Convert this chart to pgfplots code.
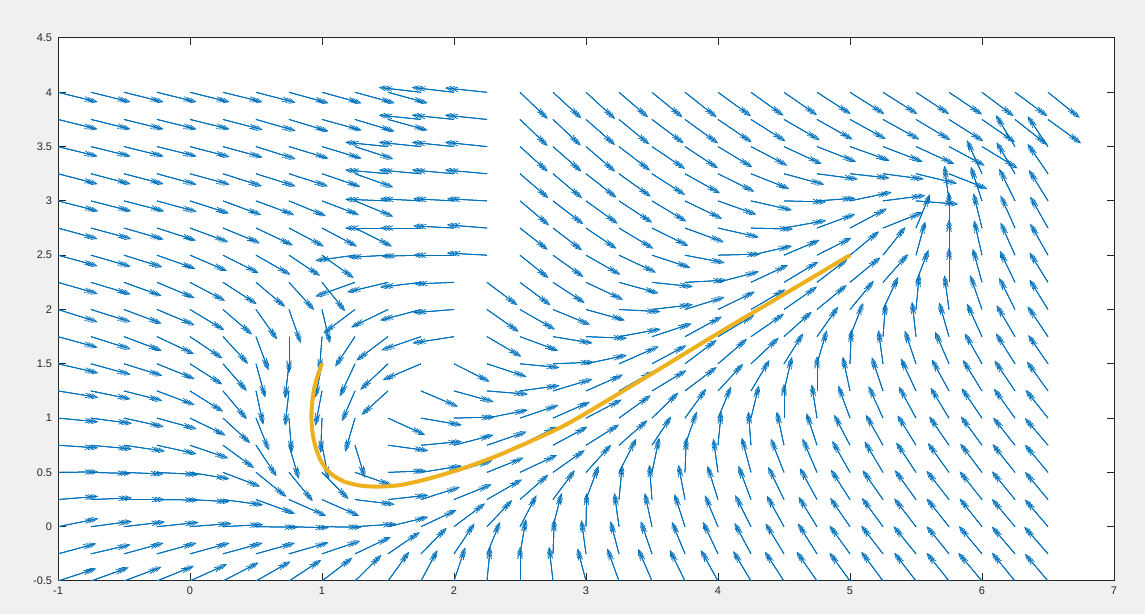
\documentclass[border=0pt]{standalone}
\usepackage{pgfplots}
\pgfplotsset{compat=1.18}
\usepackage{pgfplotstable}
\usepackage{fontspec}
\setmainfont{Liberation Sans}
\usetikzlibrary{arrows.meta}
\definecolor{mblue}{RGB}{0,114,189}
\definecolor{morange}{RGB}{237,177,32}
\definecolor{bgcol}{RGB}{240,240,240}
\definecolor{axcol}{RGB}{38,38,38}

\pgfplotstableread{
x y u v
-1 4 .30 -.09
-.75 4 .30 -.09
-.5 4 .30 -.09
-.25 4 .30 -.09
0 4 .30 -.09
.25 4 .30 -.09
.5 4 .30 -.095
.75 4 .30 -.10
1 4 .30 -.10
1.25 4 .30 -.10
1.5 4 .30 -.10
1.75 4 -.32 .045
2 4 -.32 .045
2.25 4 -.32 .04
2.5 4 .21 -.245
2.75 4 .215 -.24
3 4 .22 -.245
3.25 4 .22 -.23
3.5 4 .23 -.23
3.75 4 .24 -.23
4 4 .25 -.22
4.25 4 .245 -.215
4.5 4 .25 -.21
4.75 4 .255 -.20
5 4 .26 -.20
5.25 4 .26 -.20
5.5 4 .25 -.20
5.75 4 .25 -.205
6 4 .24 -.22
6.25 4 .245 -.22
6.5 4 .24 -.235
-1 3.75 .30 -.09
-.75 3.75 .30 -.09
-.5 3.75 .30 -.09
-.25 3.75 .30 -.09
0 3.75 .30 -.09
.25 3.75 .30 -.095
.5 3.75 .30 -.105
.75 3.75 .30 -.11
1 3.75 .30 -.10
1.25 3.75 .30 -.11
1.5 3.75 .30 -.10
1.75 3.75 -.32 .04
2 3.75 -.32 .04
2.25 3.75 -.32 .04
2.5 3.75 .21 -.245
2.75 3.75 .21 -.24
3 3.75 .22 -.235
3.25 3.75 .23 -.23
3.5 3.75 .24 -.22
3.75 3.75 .25 -.22
4 3.75 .255 -.21
4.25 3.75 .26 -.20
4.5 3.75 .27 -.19
4.75 3.75 .27 -.185
5 3.75 .27 -.18
5.25 3.75 .275 -.185
5.5 3.75 .26 -.19
5.75 3.75 .26 -.20
6 3.75 .25 -.21
6.25 3.75 .245 -.235
6.5 3.75 .25 -.22
-1 3.5 .30 -.09
-.75 3.5 .30 -.09
-.5 3.5 .30 -.09
-.25 3.5 .30 -.09
0 3.5 .30 -.095
.25 3.5 .30 -.10
.5 3.5 .30 -.115
.75 3.5 .30 -.11
1 3.5 .30 -.11
1.25 3.5 .29 -.115
1.5 3.5 -.325 .04
1.75 3.5 -.32 .04
2 3.5 -.32 .04
2.25 3.5 -.32 .04
2.5 3.5 .21 -.23
2.75 3.5 .215 -.23
3 3.5 .22 -.23
3.25 3.5 .235 -.22
3.5 3.5 .25 -.205
3.75 3.5 .25 -.20
4 3.5 .26 -.19
4.25 3.5 .275 -.175
4.5 3.5 .285 -.16
4.75 3.5 .295 -.14
5 3.5 .30 -.13
5.25 3.5 .30 -.14
5.5 3.5 .29 -.16
5.75 3.5 .27 -.175
6 3.5 .27 -.20
6.25 3.5 -.145 .29
6.5 3.5 -.155 .28
-1 3.25 .30 -.095
-.75 3.25 .30 -.095
-.5 3.25 .30 -.095
-.25 3.25 .30 -.10
0 3.25 .30 -.10
.25 3.25 .295 -.115
.5 3.25 .30 -.115
.75 3.25 .295 -.115
1 3.25 .29 -.12
1.25 3.25 .29 -.125
1.5 3.25 -.325 .035
1.75 3.25 -.32 .035
2 3.25 -.32 .035
2.25 3.25 -.32 .035
2.5 3.25 .215 -.225
2.75 3.25 .22 -.225
3 3.25 .23 -.22
3.25 3.25 .24 -.21
3.5 3.25 .25 -.195
3.75 3.25 .265 -.18
4 3.25 .275 -.165
4.25 3.25 .29 -.14
4.5 3.25 .305 -.10
4.75 3.25 .31 -.05
5 3.25 .30 -.04
5.25 3.25 .31 -.05
5.5 3.25 .31 -.09
5.75 3.25 .29 -.14
6 3.25 -.115 .31
6.25 3.25 -.14 .29
6.5 3.25 -.155 .275
-1 3 .305 -.095
-.75 3 .305 -.095
-.5 3 .305 -.095
-.25 3 .30 -.10
0 3 .295 -.115
.25 3 .29 -.13
.5 3 .29 -.13
.75 3 .28 -.14
1 3 .28 -.13
1.25 3 .29 -.145
1.5 3 -.325 .015
1.75 3 -.31 .02
2 3 -.31 .02
2.25 3 -.305 .02
2.5 3 .22 -.225
2.75 3 .23 -.215
3 3 .24 -.21
3.25 3 .25 -.20
3.5 3 .26 -.19
3.75 3 .28 -.165
4 3 .29 -.125
4.25 3 .31 -.085
4.5 3 .32 -.01
4.75 3 .29 .025
5 3 .315 .08
5.25 3 .32 .05
5.5 3 .32 -.03
5.75 3 -.035 .325
6 3 -.085 .315
6.25 3 -.12 .295
6.5 3 -.145 .285
-1 2.75 .30 -.10
-.75 2.75 .305 -.10
-.5 2.75 .30 -.105
-.25 2.75 .295 -.115
0 2.75 .29 -.13
.25 2.75 .28 -.14
.5 2.75 .28 -.16
.75 2.75 .265 -.17
1 2.75 .265 -.17
1.25 2.75 .28 -.17
1.5 2.75 -.325 0
1.75 2.75 -.31 0
2 2.75 -.31 .02
2.25 2.75 -.305 .03
2.5 2.75 .21 -.20
2.75 2.75 .22 -.205
3 2.75 .23 -.19
3.25 2.75 .26 -.19
3.5 2.75 .275 -.165
3.75 2.75 .295 -.13
4 2.75 .31 -.085
4.25 2.75 .32 -.01
4.5 2.75 .32 .07
4.75 2.75 .29 .13
5 2.75 .28 .18
5.25 2.75 .30 .145
5.5 2.75 .105 .31
5.75 2.75 0 .33
6 2.75 -.065 .32
6.25 2.75 -.11 .30
6.5 2.75 -.135 .29
-1 2.5 .30 -.10
-.75 2.5 .30 -.105
-.5 2.5 .29 -.11
-.25 2.5 .29 -.125
0 2.5 .28 -.145
.25 2.5 .27 -.165
.5 2.5 .26 -.18
.75 2.5 .235 -.19
1 2.5 .24 -.21
1.25 2.5 -.30 -.05
1.5 2.5 -.30 -.02
1.75 2.5 -.30 -.01
2 2.5 -.31 0
2.25 2.5 -.305 .02
2.5 2.5 .215 -.21
2.75 2.5 .23 -.20
3 2.5 .26 -.18
3.25 2.5 .28 -.16
3.5 2.5 .29 -.115
3.75 2.5 .30 -.07
4 2.5 .32 .01
4.25 2.5 .31 .085
4.5 2.5 .27 .14
4.75 2.5 .26 .16
5 2.5 .22 .22
5.25 2.5 .17 .26
5.5 2.5 .07 .31
5.75 2.5 0 .33
6 2.5 -.06 .32
6.25 2.5 -.11 .30
6.5 2.5 -.135 .29
-1 2.25 .30 -.105
-.75 2.25 .30 -.11
-.5 2.25 .285 -.125
-.25 2.25 .285 -.145
0 2.25 .265 -.17
.25 2.25 .255 -.20
.5 2.25 .22 -.225
.75 2.25 .19 -.255
1 2.25 .175 -.265
1.25 2.25 -.30 -.13
1.5 2.25 -.31 -.09
1.75 2.25 -.31 -.045
2 2.25 -.30 -.015
2.25 2.25 .23 -.21
2.5 2.25 .23 -.21
2.75 2.25 .24 -.19
3 2.25 .28 -.16
3.25 2.25 .30 -.10
3.5 2.25 .31 -.04
3.75 2.25 .315 .02
4 2.25 .31 .10
4.25 2.25 .28 .16
4.5 2.25 .26 .19
4.75 2.25 .23 .215
5 2.25 .23 .23
5.25 2.25 .19 .26
5.5 2.25 .095 .30
5.75 2.25 0 .32
6 2.25 -.07 .31
6.25 2.25 -.115 .29
6.5 2.25 -.14 .275
-1 2 .30 -.115
-.75 2 .30 -.115
-.5 2 .285 -.13
-.25 2 .285 -.145
0 2 .26 -.19
.25 2 .22 -.23
.5 2 .16 -.275
.75 2 .09 -.31
1 2 .06 -.31
1.25 2 -.24 -.22
1.5 2 -.28 -.165
1.75 2 -.31 -.10
2 2 -.31 -.03
2.25 2 .24 -.205
2.5 2 .265 -.185
2.75 2 .28 -.14
3 2 .295 -.10
3.25 2 .315 -.02
3.5 2 .31 .045
3.75 2 .30 .115
4 2 .28 .165
4.25 2 .26 .185
4.5 2 .25 .21
4.75 2 .225 .225
5 2 .18 .265
5.25 2 .115 .30
5.5 2 .025 .325
5.75 2 -.035 .315
6 2 -.09 .315
6.25 2 -.12 .29
6.5 2 -.14 .275
-1 1.75 .30 -.10
-.75 1.75 .30 -.115
-.5 1.75 .285 -.13
-.25 1.75 .28 -.16
0 1.75 .245 -.20
.25 1.75 .19 -.25
.5 1.75 .095 -.31
.75 1.75 0 -.335
1 1.75 -.02 -.32
1.25 1.75 -.15 -.275
1.5 1.75 -.24 -.22
1.75 1.75 -.30 -.125
2 1.75 -.315 -.06
2.25 1.75 .26 -.185
2.5 1.75 .29 -.13
2.75 1.75 .30 -.06
3 1.75 .31 -.015
3.25 1.75 .315 .07
3.5 1.75 .30 .12
3.75 1.75 .28 .185
4 1.75 .275 .20
4.25 1.75 .25 .21
4.5 1.75 .21 .23
4.75 1.75 .16 .275
5 1.75 .10 .31
5.25 1.75 .02 .31
5.5 1.75 -.03 .32
5.75 1.75 -.075 .315
6 1.75 -.115 .305
6.25 1.75 -.14 .29
6.5 1.75 -.155 .28
-1 1.5 .305 -.085
-.75 1.5 .30 -.10
-.5 1.5 .29 -.11
-.25 1.5 .285 -.14
0 1.5 .245 -.19
.25 1.5 .18 -.25
.5 1.5 .07 -.31
.75 1.5 -.03 -.32
1 1.5 -.05 -.31
1.25 1.5 -.115 -.30
1.5 1.5 -.21 -.24
1.75 1.5 -.29 -.15
2 1.5 .27 -.165
2.25 1.5 .30 -.12
2.5 1.5 .30 -.035
2.75 1.5 .31 .015
3 1.5 .31 .08
3.25 1.5 .30 .16
3.5 1.5 .26 .17
3.75 1.5 .24 .22
4 1.5 .22 .23
4.25 1.5 .21 .24
4.5 1.5 .145 .28
4.75 1.5 .075 .31
5 1.5 .01 .315
5.25 1.5 -.035 .31
5.5 1.5 -.085 .305
5.75 1.5 -.105 .295
6 1.5 -.13 .28
6.25 1.5 -.145 .28
6.5 1.5 -.15 .265
-1 1.25 .305 -.06
-.75 1.25 .30 -.075
-.5 1.25 .29 -.09
-.25 1.25 .285 -.13
0 1.25 .25 -.19
.25 1.25 .18 -.26
.5 1.25 .055 -.31
.75 1.25 -.03 -.32
1 1.25 -.05 -.32
1.25 1.25 -.10 -.28
1.5 1.25 -.20 -.22
1.75 1.25 .28 -.145
2 1.25 .30 -.10
2.25 1.25 .31 -.03
2.5 1.25 .30 .05
2.75 1.25 .30 .11
3 1.25 .28 .15
3.25 1.25 .26 .18
3.5 1.25 .26 .19
3.75 1.25 .24 .22
4 1.25 .19 .25
4.25 1.25 .14 .285
4.5 1.25 .06 .315
4.75 1.25 0 .32
5 1.25 -.055 .315
5.25 1.25 -.085 .31
5.5 1.25 -.115 .30
5.75 1.25 -.13 .29
6 1.25 -.145 .285
6.25 1.25 -.155 .28
6.5 1.25 -.16 .27
-1 1 .305 -.035
-.75 1 .31 -.05
-.5 1 .30 -.08
-.25 1 .30 -.10
0 1 .27 -.16
.25 1 .205 -.23
.5 1 .10 -.30
.75 1 .02 -.32
1 1 -.01 -.32
1.25 1 -.075 -.31
1.5 1 .28 -.155
1.75 1 .31 -.065
2 1 .31 .01
2.25 1 .31 .075
2.5 1 .29 .12
2.75 1 .28 .15
3 1 .27 .17
3.25 1 .24 .21
3.5 1 .20 .235
3.75 1 .16 .27
4 1 .10 .29
4.25 1 .06 .30
4.5 1 0 .315
4.75 1 -.04 .31
5 1 -.09 .30
5.25 1 -.11 .295
5.5 1 -.13 .29
5.75 1 -.14 .28
6 1 -.155 .275
6.25 1 -.16 .27
6.5 1 -.17 .26
-1 .75 .305 -.025
-.75 .75 .31 -.035
-.5 .75 .31 -.055
-.25 .75 .30 -.08
0 .75 .29 -.12
.25 .75 .235 -.21
.5 .75 .155 -.285
.75 .75 .075 -.31
1 .75 .05 -.31
1.25 .75 .075 -.30
1.5 .75 .305 -.05
1.75 .75 .31 .035
2 .75 .30 .095
2.25 .75 .30 .125
2.5 .75 .28 .17
2.75 .75 .26 .17
3 .75 .25 .19
3.25 .75 .215 .23
3.5 .75 .145 .265
3.75 .75 .09 .31
4 .75 .025 .31
4.25 .75 -.02 .31
4.5 .75 -.055 .31
4.75 .75 -.08 .295
5 .75 -.12 .28
5.25 .75 -.13 .28
5.5 .75 -.14 .275
5.75 .75 -.15 .265
6 .75 -.16 .265
6.25 .75 -.165 .255
6.5 .75 -.175 .25
-1 .5 .305 .005
-.75 .5 .30 -.01
-.5 .5 .30 -.015
-.25 .5 .315 -.02
0 .5 .30 -.06
.25 .5 .28 -.13
.5 .5 .23 -.225
.75 .5 .18 -.265
1 .5 .20 -.245
1.25 .5 .28 -.12
1.5 .5 .29 .015
1.75 .5 .31 .06
2 .5 .29 .11
2.25 .5 .275 .135
2.5 .5 .28 .16
2.75 .5 .24 .205
3 .5 .19 .255
3.25 .5 .13 .31
3.5 .5 .055 .32
3.75 .5 .01 .32
4 .5 -.035 .31
4.25 .5 -.07 .32
4.5 .5 -.10 .31
4.75 .5 -.11 .31
5 .5 -.135 .29
5.25 .5 -.14 .285
5.5 .5 -.15 .275
5.75 .5 -.16 .27
6 .5 -.165 .265
6.25 .5 -.17 .26
6.5 .5 -.175 .255
-1 .25 .305 .03
-.75 .25 .31 .015
-.5 .25 .31 0
-.25 .25 .315 -.005
0 .25 .30 -.02
.25 .25 .305 -.05
.5 .25 .295 -.13
.75 .25 .28 -.15
1 .25 .28 -.15
1.25 .25 .30 -.045
1.5 .25 .305 .04
1.75 .25 .295 .115
2 .25 .285 .14
2.25 .25 .265 .185
2.5 .25 .215 .23
2.75 .25 .165 .27
3 .25 .095 .31
3.25 .25 .025 .32
3.5 .25 -.02 .32
3.75 .25 -.05 .32
4 .25 -.08 .31
4.25 .25 -.095 .31
4.5 .25 -.12 .30
4.75 .25 -.13 .29
5 .25 -.145 .275
5.25 .25 -.155 .27
5.5 .25 -.16 .27
5.75 .25 -.17 .265
6 .25 -.17 .26
6.25 .25 -.175 .26
6.5 .25 -.175 .255
-1 0 .305 .075
-.75 0 .31 .05
-.5 0 .31 .045
-.25 0 .315 .04
0 0 .315 .03
.25 0 .305 .02
.5 0 .32 -.005
.75 0 .30 -.01
1 0 .30 -.005
1.25 0 .315 .025
1.5 0 .305 .09
1.75 0 .27 .155
2 0 .235 .215
2.25 0 .19 .245
2.5 0 .125 .29
2.75 0 .065 .31
3 0 .005 .31
3.25 0 -.035 .31
3.5 0 -.055 .31
3.75 0 -.08 .30
4 0 -.10 .29
4.25 0 -.12 .29
4.5 0 -.13 .285
4.75 0 -.14 .275
5 0 -.15 .265
5.25 0 -.16 .265
5.5 0 -.165 .26
5.75 0 -.17 .26
6 0 -.17 .26
6.25 0 -.175 .255
6.5 0 -.175 .25
-1 -.25 .29 .095
-.75 -.25 .30 .085
-.5 -.25 .30 .10
-.25 -.25 .30 .10
0 -.25 .30 .10
.25 -.25 .30 .10
.5 -.25 .295 .10
.75 -.25 .30 .105
1 -.25 .29 .12
1.25 -.25 .27 .155
1.5 -.25 .24 .20
1.75 -.25 .195 .24
2 -.25 .155 .28
2.25 -.25 .10 .295
2.5 -.25 .045 .32
2.75 -.25 .01 .32
3 -.25 -.035 .31
3.25 -.25 -.065 .30
3.5 -.25 -.085 .30
3.75 -.25 -.10 .295
4 -.25 -.115 .295
4.25 -.25 -.125 .285
4.5 -.25 -.14 .28
4.75 -.25 -.145 .28
5 -.25 -.155 .26
5.25 -.25 -.165 .26
5.5 -.25 -.17 .255
5.75 -.25 -.17 .255
6 -.25 -.175 .255
6.25 -.25 -.175 .25
6.5 -.25 -.18 .25
-1 -.5 .29 .115
-.75 -.5 .285 .125
-.5 -.5 .285 .13
-.25 -.5 .28 .14
0 -.5 .28 .155
.25 -.5 .27 .17
.5 -.5 .26 .18
.75 -.5 .245 .195
1 -.5 .23 .215
1.25 -.5 .20 .24
1.5 -.5 .16 .27
1.75 -.5 .125 .285
2 -.5 .085 .31
2.25 -.5 .025 .315
2.5 -.5 0 .315
2.75 -.5 -.03 .315
3 -.5 -.065 .30
3.25 -.5 -.09 .30
3.5 -.5 -.105 .295
3.75 -.5 -.115 .285
4 -.5 -.13 .285
4.25 -.5 -.135 .275
4.5 -.5 -.145 .27
4.75 -.5 -.155 .27
5 -.5 -.155 .26
5.25 -.5 -.165 .27
5.5 -.5 -.165 .26
5.75 -.5 -.17 .26
6 -.5 -.18 .26
6.25 -.5 -.175 .26
6.5 -.5 -.175 .25
}\field

\begin{document}
\begin{tikzpicture}
\fill[bgcol] (-34.8pt,-19.8pt) rectangle (652.2pt,348.6pt);
\begin{axis}[
  scale only axis, width=633.6pt, height=325.8pt,
  xmin=-1, xmax=7, ymin=-0.5, ymax=4.5,
  xtick={-1,0,1,2,3,4,5,6,7},
  ytick={-0.5,0,0.5,1,1.5,2,2.5,3,3.5,4,4.5},
  tick align=inside, major tick length=4.5pt,
  axis line style={axcol, line width=0.6pt},
  every tick/.style={axcol, line width=0.6pt},
  axis background/.style={fill=white},
  tick label style={font=\fontsize{6.6}{8}\selectfont, text=axcol},
  /pgf/number format/assume math mode=true,
  yticklabel style={/pgf/number format/fixed},
  clip=true,
]
\addplot[mblue, line width=0.45pt, -{Straight Barb[length=3.4pt,width=2.9pt]}, quiver={u=\thisrow{u}, v=\thisrow{v}, scale arrows=0.84}] table[x=x, y=y] {\field};
\addplot[mblue, line width=0.45pt, -{Straight Barb[length=3.4pt,width=2.9pt]}, quiver={u=\thisrow{u}, v=\thisrow{v}, scale arrows=0.92}] table[x=x, y=y] {\field};
\addplot[mblue, line width=0.45pt, -{Straight Barb[length=3.4pt,width=2.9pt]}, quiver={u=\thisrow{u}, v=\thisrow{v}, scale arrows=1}] table[x=x, y=y] {\field};
\addplot[morange, line width=2.4pt, smooth] coordinates {
(1.0,1.5) (0.97,1.40) (0.94,1.27) (0.925,1.13) (0.92,1.0) (0.93,0.85) (0.955,0.72) (0.99,0.61) (1.04,0.52) (1.10,0.46) (1.18,0.41) (1.31,0.375) (1.45,0.37) (1.60,0.385) (1.80,0.44) (2.05,0.53) (2.30,0.64) (2.55,0.77) (2.8,0.91) (3.0,1.045) (3.5,1.41) (4.0,1.78) (4.5,2.14) (5.0,2.5)
};
\end{axis}
\end{tikzpicture}
\end{document}
